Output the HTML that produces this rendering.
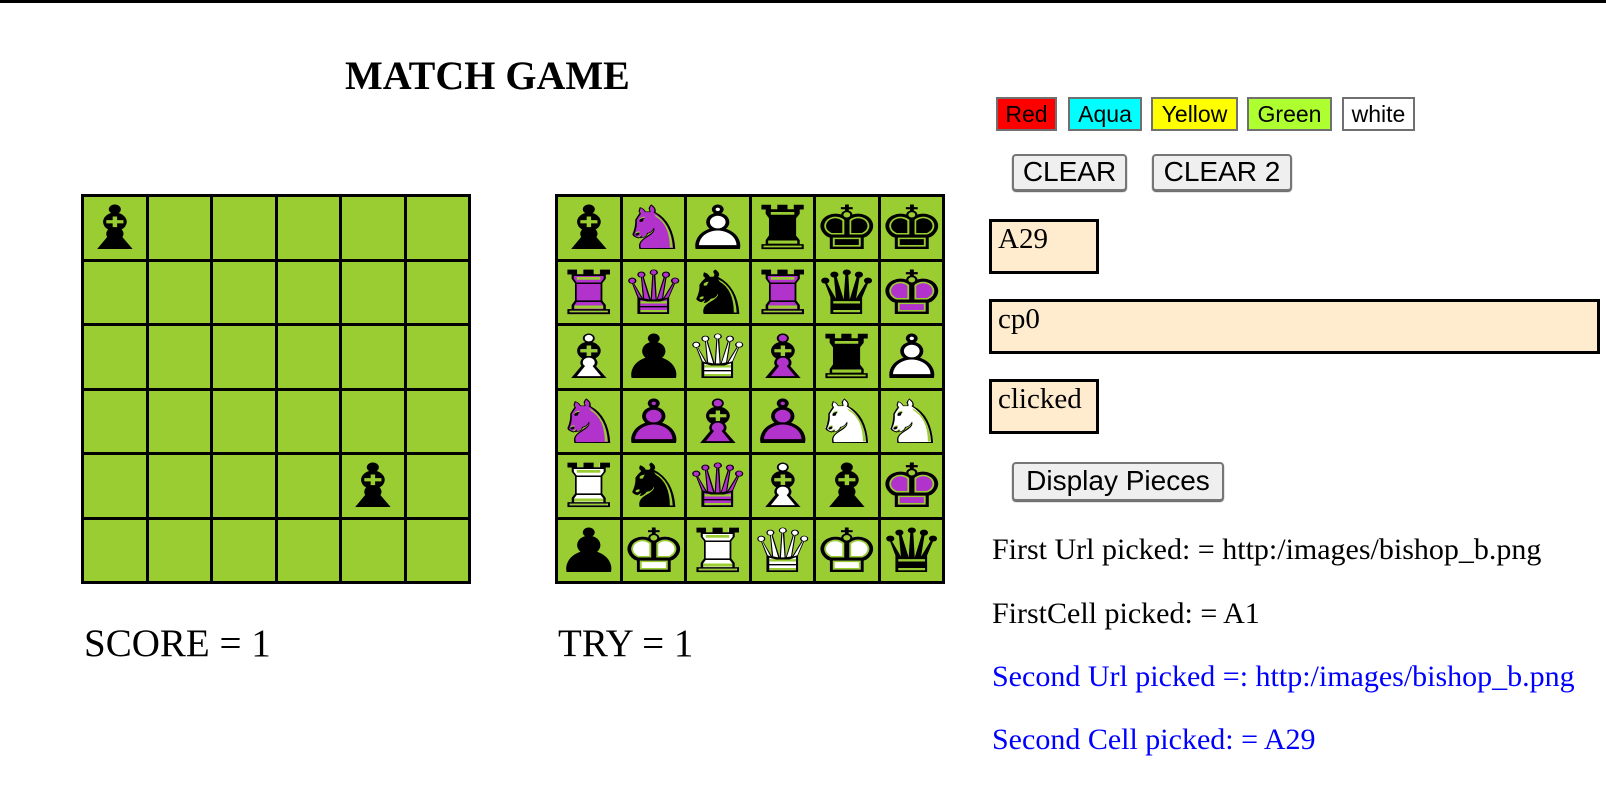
<!DOCTYPE html>
<html><head><meta charset="utf-8"><style>
body{margin:0;width:1606px;height:786px;background:#fff;position:relative;overflow:hidden;font-family:"Liberation Serif",serif}
.topline{position:absolute;left:0;top:0;width:1606px;height:3px;background:#000}
.abs{position:absolute;white-space:nowrap}
.board{position:absolute;width:390px;height:390px;background:#000;display:grid;grid-template-columns:repeat(6,1fr);grid-template-rows:repeat(6,1fr);gap:3px;padding:3px;box-sizing:border-box}
.cell{background:#9acd32;position:relative;overflow:hidden}
.pc{position:absolute;left:0;top:0;width:100%;height:100%;display:flex;align-items:center;justify-content:center;font-family:"DejaVu Sans",sans-serif;font-size:58px;line-height:1;transform:scale(1.3,1.05)}
.cbtn{position:absolute;font-family:"Liberation Sans",sans-serif;font-size:23px;border:2px solid #707070;box-sizing:border-box;text-align:center;line-height:30px;height:34px}
.btn{position:absolute;font-family:"Liberation Sans",sans-serif;font-size:28px;border:2px solid #767676;border-radius:4px;background:#efefef;box-sizing:border-box;text-align:center;box-shadow:0 1px 1px #555}
.box{position:absolute;border:3px solid #000;background:#ffebcd;box-sizing:border-box;font-size:29px;padding:2px 0 0 6px;line-height:30px}
.t{position:absolute;font-size:30px;white-space:nowrap}
</style></head><body>
<div class="topline"></div>
<div class="abs" style="left:345px;top:52px;font-size:40px;font-weight:bold">MATCH GAME</div>
<div class="board" id="b1" style="left:81px;top:194px"></div>
<div class="board" id="b2" style="left:555px;top:194px"></div>
<div class="abs" style="left:84px;top:621px;font-size:39px">SCORE = 1</div>
<div class="abs" style="left:558px;top:621px;font-size:39px">TRY = 1</div>

<div class="cbtn" style="left:996px;top:97px;width:61px;background:#f00">Red</div>
<div class="cbtn" style="left:1068px;top:97px;width:74px;background:#0ff">Aqua</div>
<div class="cbtn" style="left:1151px;top:97px;width:87px;background:#ff0">Yellow</div>
<div class="cbtn" style="left:1247px;top:97px;width:85px;background:#adff2f">Green</div>
<div class="cbtn" style="left:1342px;top:97px;width:73px;background:#fff">white</div>

<div class="btn" style="left:1012px;top:154px;width:115px;height:37px;line-height:32px">CLEAR</div>
<div class="btn" style="left:1152px;top:154px;width:140px;height:37px;line-height:32px">CLEAR 2</div>

<div class="box" style="left:989px;top:219px;width:110px;height:55px">A29</div>
<div class="box" style="left:989px;top:299px;width:611px;height:55px">cp0</div>
<div class="box" style="left:989px;top:379px;width:110px;height:55px">clicked</div>

<div class="btn" style="left:1012px;top:462px;width:212px;height:39px;line-height:34px">Display Pieces</div>

<div class="t" style="left:992px;top:533px">First Url picked: = http:/images/bishop_b.png</div>
<div class="t" style="left:992px;top:597px">FirstCell picked: = A1</div>
<div class="t" style="left:992px;top:660px;color:#00f">Second Url picked =: http:/images/bishop_b.png</div>
<div class="t" style="left:992px;top:723px;color:#00f">Second Cell picked: = A29</div>

<script>
var F={K:'\u265A',Q:'\u265B',R:'\u265C',B:'\u265D',N:'\u265E',P:'\u265F'};
var O={K:'\u2654',Q:'\u2655',R:'\u2656',B:'\u2657',N:'\u2658',P:'\u2659'};
function piece(code){
  if(!code) return '';
  var c=code[0],p=code[1];
  if(c=='b') return '<div class="pc" style="color:#000">'+F[p]+'</div>';
  var fill=c=='w'?'#fff':'#b233cc';
  return '<div class="pc" style="color:'+fill+'">'+F[p]+'</div><div class="pc" style="color:#000">'+O[p]+'</div>';
}
function build(id,rows){
  var h='';
  rows.forEach(function(r){r.forEach(function(x){h+='<div class="cell">'+piece(x)+'</div>';});});
  document.getElementById(id).innerHTML=h;
}
var e=['','','','','',''];
build('b1',[['bB','','','','',''],e,e,e,['','','','','bB',''],e]);
build('b2',[
['bB','pN','wP','bR','bK','bK'],
['pR','pQ','bN','pR','bQ','pK'],
['wB','bP','wQ','pB','bR','wP'],
['pN','pP','pB','pP','wN','wN'],
['wR','bN','pQ','wB','bB','pK'],
['bP','wK','wR','wQ','wK','bQ']]);
</script>
</body></html>
